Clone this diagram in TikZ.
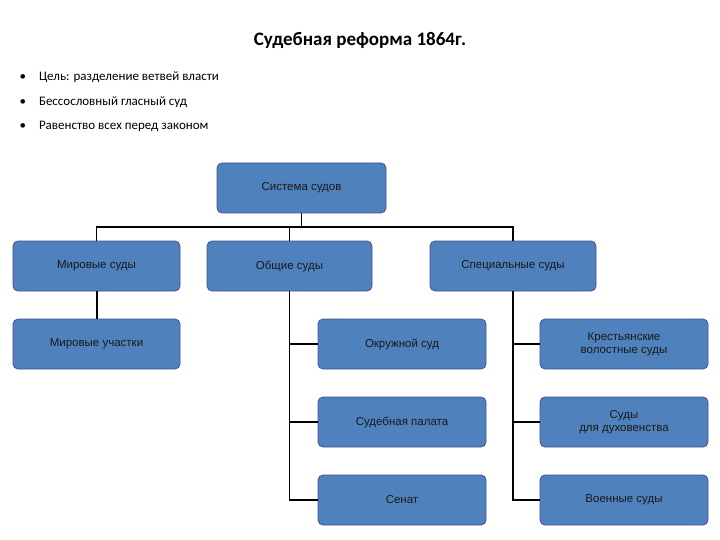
\documentclass[tikz,border=0pt]{standalone}
\usepackage{fontspec}
\setmainfont{Carlito}
\newfontfamily\boxfont{Liberation Sans}
\begin{document}
\begin{tikzpicture}[x=1pt,y=-1pt,
  box/.style={draw=blue!40!black!70, line width=0.8pt, fill={rgb,255:red,79;green,129;blue,189}, rounded corners=5pt,
    minimum width=167pt, minimum height=50pt, font=\boxfont\fontsize{11.5}{13}\selectfont, align=center, text=black!90},
  conn/.style={line width=1.3pt, black}]
\useasboundingbox (0,0) rectangle (720,540);
\node[font=\bfseries\fontsize{19}{22}\selectfont] (title) at (360,40) {Судебная реформа 1864г.};
\node[anchor=west, align=left, font=\fontsize{13}{24.5}\selectfont] (bul) at (16,102)
 {•\hspace{13pt}Цель: разделение ветвей власти\\•\hspace{13pt}Бессословный гласный суд\\•\hspace{13pt}Равенство всех перед законом};
\node[box, minimum width=169pt] (sys) at (301.5,188) {Система судов};
\node[box] (mir) at (96.5,266) {Мировые суды};
\node[box, minimum width=165pt] (obs) at (289.5,266) {Общие суды};
\node[box, minimum width=166pt] (spe) at (513,266) {Специальные суды};
\node[box] (uch) at (96.5,344) {Мировые участки};
\node[box, minimum width=168pt] (okr) at (402,344) {Окружной суд};
\node[box, minimum width=168pt] (kre) at (624,344) {Крестьянские\\волостные суды};
\node[box, minimum width=168pt] (pal) at (402,422) {Судебная палата};
\node[box, minimum width=168pt] (duh) at (624,422) {Суды\\для духовенства};
\node[box, minimum width=168pt] (sen) at (402,500) {Сенат};
\node[box, minimum width=168pt] (voe) at (624,500) {Военные суды};
\coordinate (j) at (301.5,227);
\draw[conn] (sys.south) -- (j);
\draw[conn] (mir.north) |- (j) -| (spe.north);
\draw[conn] (obs.north) -- (obs.north |- j);
\draw[conn, line width=2pt] (mir.south) -- (uch.north);
\draw[conn] (obs.south) |- (sen.west);
\draw[conn] (obs.south |- okr.west) -- (okr.west);
\draw[conn] (obs.south |- pal.west) -- (pal.west);
\draw[conn] (spe.south) |- (voe.west);
\draw[conn] (spe.south |- kre.west) -- (kre.west);
\draw[conn] (spe.south |- duh.west) -- (duh.west);
\end{tikzpicture}
\end{document}
